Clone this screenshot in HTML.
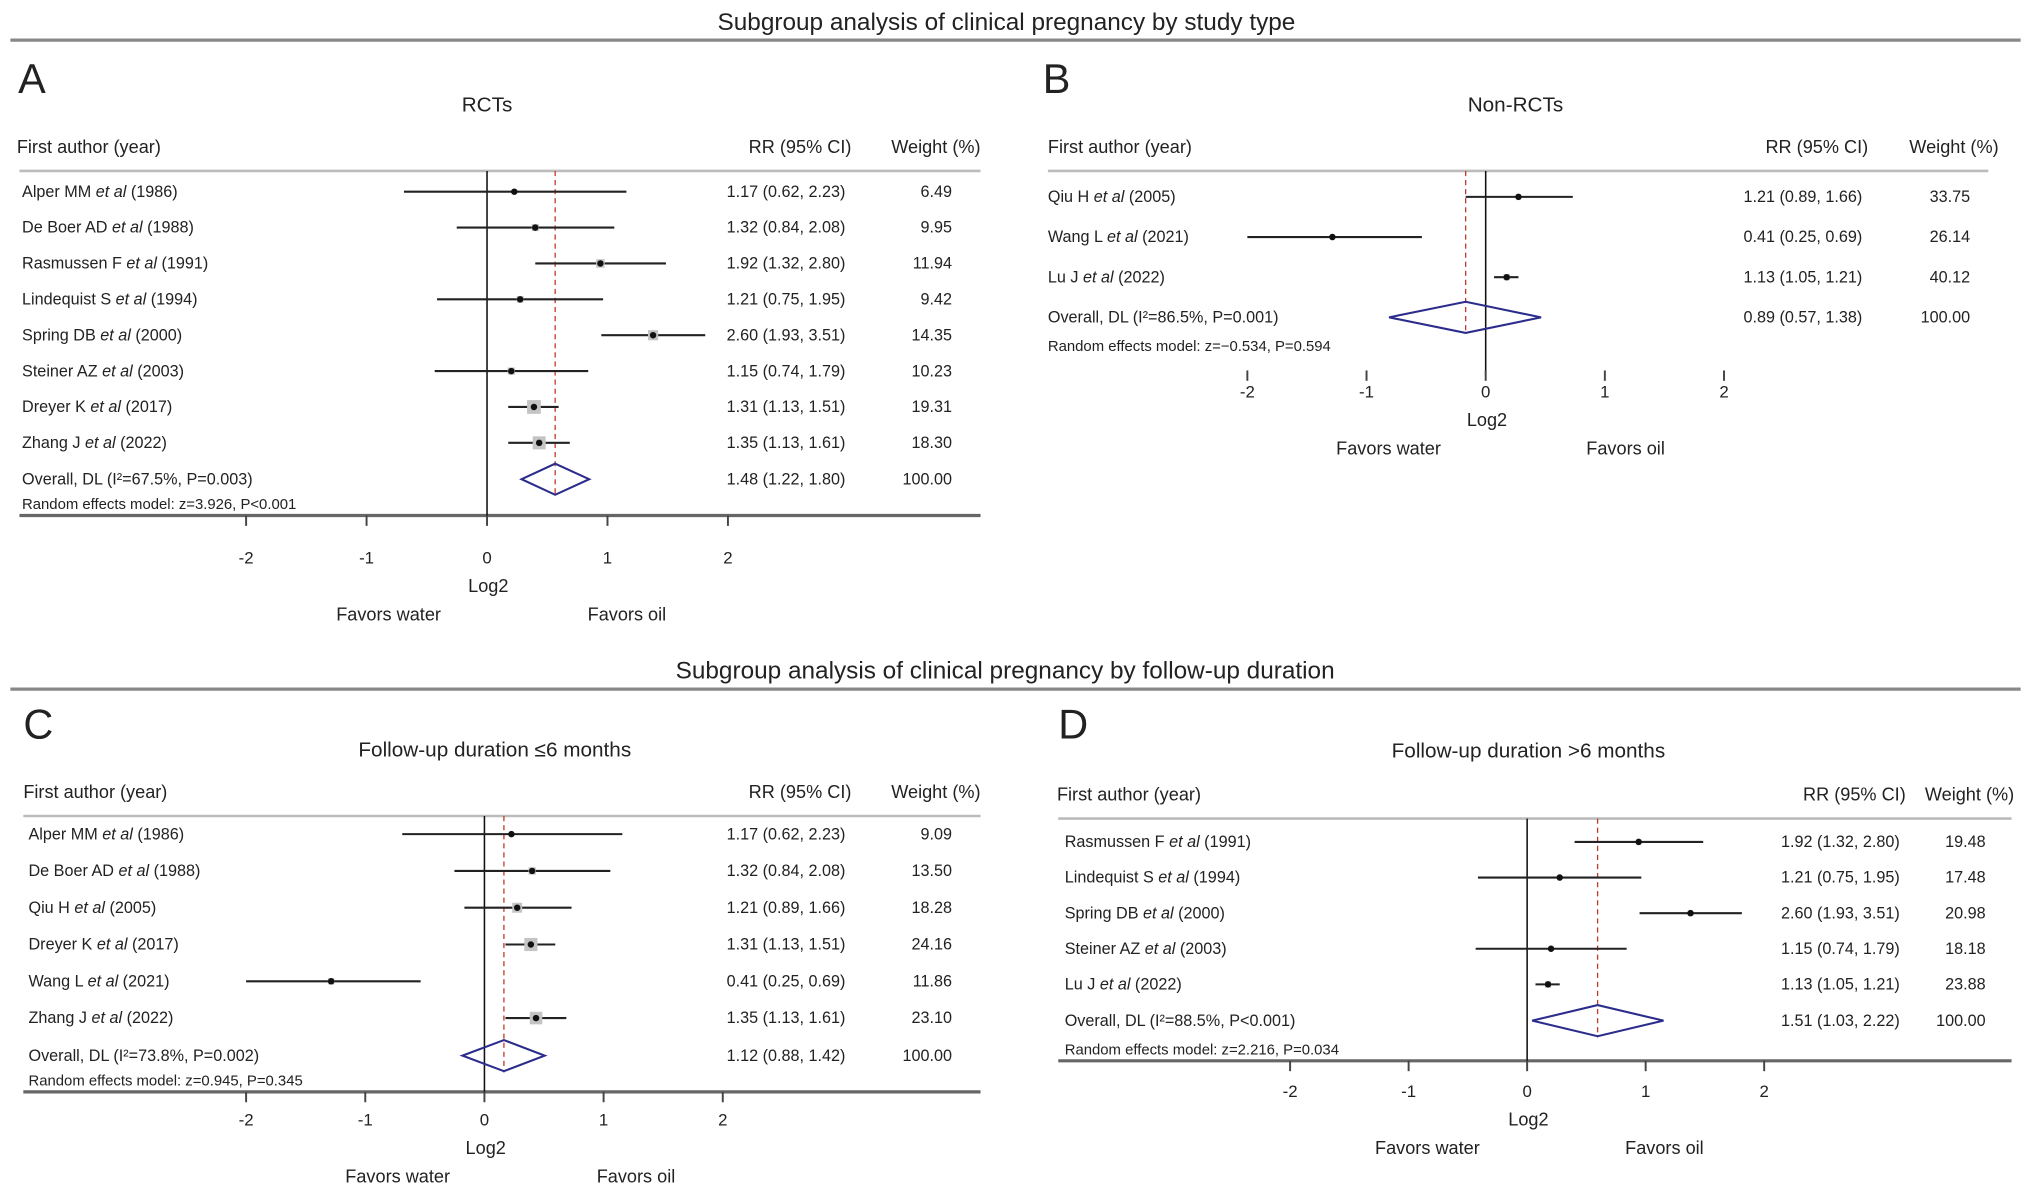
<!DOCTYPE html>
<html><head><meta charset="utf-8"><style>
html,body{margin:0;padding:0;background:#fff;}
svg{display:block;font-family:"Liberation Sans",sans-serif;}
</style></head><body>
<svg id="fig" width="2031" height="1195" viewBox="0 0 1568 922.6" preserveAspectRatio="none" xmlns="http://www.w3.org/2000/svg"></svg>
<script>
// Panel A data
const aAuthors = ["Alper MM","De Boer AD","Rasmussen F","Lindequist S","Spring DB","Steiner AZ","Dreyer K","Zhang J"];
const aYears = ["1986","1988","1991","1994","2000","2003","2017","2022"];
const aRR = [1.17,1.32,1.92,1.21,2.60,1.15,1.31,1.35];
const aLo = [0.62,0.84,1.32,0.75,1.93,0.74,1.13,1.13];
const aHi = [2.23,2.08,2.80,1.95,3.51,1.79,1.51,1.61];
const aW = ["6.49","9.95","11.94","9.42","14.35","10.23","19.31","18.30"];
const aOverall = [1.48,1.22,1.80];
// Panel B data
const bAuthors = ["Qiu H","Wang L","Lu J"];
const bYears = ["2005","2021","2022"];
const bRR = [1.21,0.41,1.13];
const bLo = [0.89,0.25,1.05];
const bHi = [1.66,0.69,1.21];
const bW = ["33.75","26.14","40.12"];
const bOverall = [0.89,0.57,1.38];
// Panel C data
const cAuthors = ["Alper MM","De Boer AD","Qiu H","Dreyer K","Wang L","Zhang J"];
const cYears = ["1986","1988","2005","2017","2021","2022"];
const cRR = [1.17,1.32,1.21,1.31,0.41,1.35];
const cLo = [0.62,0.84,0.89,1.13,0.25,1.13];
const cHi = [2.23,2.08,1.66,1.51,0.69,1.61];
const cW = ["9.09","13.50","18.28","24.16","11.86","23.10"];
const cOverall = [1.12,0.88,1.42];
// Panel D data
const dAuthors = ["Rasmussen F","Lindequist S","Spring DB","Steiner AZ","Lu J"];
const dYears = ["1991","1994","2000","2003","2022"];
const dRR = [1.92,1.21,2.60,1.15,1.13];
const dLo = [1.32,0.75,1.93,0.74,1.05];
const dHi = [2.80,1.95,3.51,1.79,1.21];
const dW = ["19.48","17.48","20.98","18.18","23.88"];
const dOverall = [1.51,1.03,2.22];
const ticks = [-2,-1,0,1,2];

const NS="http://www.w3.org/2000/svg";
const svg=document.getElementById('fig');
function mk(tag,attrs,parent){const e=document.createElementNS(NS,tag);for(const k in attrs)e.setAttribute(k,attrs[k]);(parent||svg).appendChild(e);return e;}
function txt(x,y,s,size,anchor,parent,extra){const t=mk('text',Object.assign({x:x,y:y,'font-size':size,'text-anchor':anchor||'start',fill:'#222'},extra||{}),parent);t.textContent=s;return t;}
const f2=v=>v.toFixed(2);

function section(title,cx,y,ly,nm){
  const t=txt(cx,y,title,18.8,'middle');
  
  
  const l=mk('line',{x1:8,x2:1560,y1:ly,y2:ly,stroke:'#888','stroke-width':2.5});
  
  
}
section("Subgroup analysis of clinical pregnancy by study type",777,23,31,'study-type');
section("Subgroup analysis of clinical pregnancy by follow-up duration",776,524,532,'follow-up');

function panel(p){
  const g=mk('g',{});
  
  
  const X=v=>p.x0+p.sc*Math.log2(v);
  const lab=txt(p.lx,p.ly,p.id,32,'start',g);
  
  
  const st=txt(p.sx,p.sy,p.sub,16,'middle',g);
  
  
  const h1=txt(p.hx,p.hy,"First author (year)",14,'start',g);
  
  
  const h2=txt(p.rrx+17,p.hy,"RR (95% CI)",14,'start',g);
  
  
  const h3=txt(p.wx+22,p.hy,"Weight (%)",14,'end',g);
  
  
  const hl=mk('line',{x1:p.l1,x2:p.l2,y1:p.hy+14,y2:p.hy+14,stroke:'#bbb','stroke-width':2},g);
  
  
  if(p.by){
    const bl=mk('line',{x1:p.l1,x2:p.l2,y1:p.by,y2:p.by,stroke:'#666','stroke-width':2.5},g);
    
    
  }
  const zl=mk('line',{x1:p.x0,x2:p.x0,y1:p.hy+14,y2:p.zb,stroke:'#111','stroke-width':1.2},g);
  
  
  const ox=X(p.ov[0]);
  const dl=mk('line',{x1:ox,x2:ox,y1:p.hy+14,y2:p.oy+13,stroke:'#c0392b','stroke-width':1,'stroke-dasharray':'4,3'},g);
  
  
  p.au.forEach((a,i)=>{
    const y=p.y0+i*p.dy;
    const t=mk('text',{x:p.nx,y:y+4,'font-size':12.5,fill:'#222'},g);
    
    
    const s1=mk('tspan',{},t);s1.textContent=a+" ";
    const s2=mk('tspan',{'font-style':'italic'},t);s2.textContent="et al";
    const s3=mk('tspan',{},t);s3.textContent=" ("+p.yr[i]+")";
    const ci=mk('line',{x1:X(p.lo[i]),x2:X(p.hi[i]),y1:y,y2:y,stroke:'#222','stroke-width':1.6},g);
    
    
    const s=parseFloat(p.w[i])*p.bs;
    const bx=mk('rect',{x:X(p.rr[i])-s/2,y:y-s/2,width:s,height:s,fill:'#c4c4c4'},g);
    
    
    const pt=mk('circle',{cx:X(p.rr[i]),cy:y,r:2.5,fill:'#111'},g);
    
    
    const rt=txt(p.rrx,y+4,f2(p.rr[i])+" ("+f2(p.lo[i])+", "+f2(p.hi[i])+")",12.5,'start',g);
    
    
    const wt=txt(p.wx,y+4,p.w[i],12.5,'end',g);
    
    
  });
  const oy=p.oy;
  const ot=txt(p.nx,oy+4,p.ovLabel,12.5,'start',g);
  
  
  const dm=mk('polygon',{points:`${X(p.ov[1])},${oy} ${ox},${oy-12} ${X(p.ov[2])},${oy} ${ox},${oy+12}`,fill:'none',stroke:'#2c2c8c','stroke-width':1.6},g);
  
  
  const ort=txt(p.rrx,oy+4,f2(p.ov[0])+" ("+f2(p.ov[1])+", "+f2(p.ov[2])+")",12.5,'start',g);
  
  
  const owt=txt(p.wx,oy+4,"100.00",12.5,'end',g);
  
  
  const rm=txt(p.nx,p.ry,p.rmLabel,11.5,'start',g);
  
  
  ticks.forEach(t=>{
    const x=p.x0+p.sc*t;
    const tk=mk('line',{x1:x,x2:x,y1:p.tk,y2:p.tk+8,stroke:'#444','stroke-width':1.5},g);
    
    
    const tl=txt(x,p.tly,String(t),13,'middle',g);
    
    
  });
  const lg=txt(p.x0+1,p.tly+22,"Log2",14,'middle',g);
  
  
  const fw=txt(p.fwx,p.tly+44,"Favors water",14,'middle',g);
  
  
  const fo=txt(p.fox,p.tly+44,"Favors oil",14,'middle',g);
  
  
}

panel({id:'A',lx:14,ly:72,sub:'RCTs',sx:376,sy:86,hx:13,hy:118,rrx:561,wx:735,l1:15,l2:757,by:398,zb:398,bs:0.55,
  x0:376,sc:93,au:aAuthors,yr:aYears,rr:aRR,lo:aLo,hi:aHi,w:aW,ov:aOverall,y0:148,dy:27.7,nx:17,oy:370,ry:393,
  ovLabel:'Overall, DL (I²=67.5%, P=0.003)',rmLabel:'Random effects model: z=3.926, P<0.001',tk:398,tly:435,fwx:300,fox:484});
panel({id:'B',lx:805,ly:72,sub:'Non-RCTs',sx:1170,sy:86,hx:809,hy:118,rrx:1346,wx:1521,l1:809,l2:1535,by:0,zb:290,bs:0.12,
  x0:1147,sc:92,au:bAuthors,yr:bYears,rr:bRR,lo:bLo,hi:bHi,w:bW,ov:bOverall,y0:152,dy:31,nx:809,oy:245,ry:271,
  ovLabel:'Overall, DL (I²=86.5%, P=0.001)',rmLabel:'Random effects model: z=−0.534, P=0.594',tk:286,tly:307,fwx:1072,fox:1255});
panel({id:'C',lx:18,ly:570,sub:'Follow-up duration ≤6 months',sx:382,sy:584,hx:18,hy:616,rrx:561,wx:735,l1:18,l2:757,by:843,zb:843,bs:0.42,
  x0:374,sc:92,au:cAuthors,yr:cYears,rr:cRR,lo:cLo,hi:cHi,w:cW,ov:cOverall,y0:644,dy:28.4,nx:22,oy:815,ry:838,
  ovLabel:'Overall, DL (I²=73.8%, P=0.002)',rmLabel:'Random effects model: z=0.945, P=0.345',tk:843,tly:869,fwx:307,fox:491});
panel({id:'D',lx:817,ly:570,sub:'Follow-up duration >6 months',sx:1180,sy:585,hx:816,hy:618,rrx:1375,wx:1533,l1:817,l2:1553,by:819,zb:819,bs:0.2,
  x0:1179,sc:91.5,au:dAuthors,yr:dYears,rr:dRR,lo:dLo,hi:dHi,w:dW,ov:dOverall,y0:650,dy:27.5,nx:822,oy:788,ry:814,
  ovLabel:'Overall, DL (I²=88.5%, P<0.001)',rmLabel:'Random effects model: z=2.216, P=0.034',tk:819,tly:847,fwx:1102,fox:1285});
</script>
</body></html>
